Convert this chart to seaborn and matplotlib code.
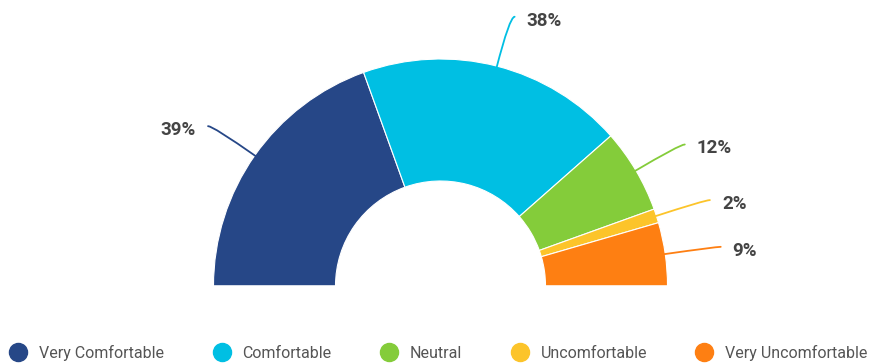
import numpy as np
import matplotlib.pyplot as plt
import seaborn as sns
from matplotlib.lines import Line2D

sns.set_theme(style='white')
plt.rcParams['font.family'] = ['Roboto', 'DejaVu Sans']

# 데이터
categories = ['Very Comfortable', 'Comfortable', 'Neutral', 'Uncomfortable', 'Very Uncomfortable']
shares = [39, 38, 12, 2, 9]
labels = ['39%', '38%', '12%', '2%', '9%']
colors = sns.color_palette(['#264787', '#00bfe3', '#84cc3a', '#fcc42a', '#fe7f12'])

# 반원 도넛: 위쪽 절반만 보이도록 투명한 나머지 조각 추가
fig = plt.figure(figsize=(8.7, 3.64), dpi=100)
ax = fig.add_axes([0, 0, 1, 1])
cx, cy = 440.5, 78
r_out, r_in = 227, 105

ax.pie(shares + [sum(shares)], colors=list(colors) + [(1, 1, 1, 0)],
       startangle=180, counterclock=False, radius=r_out, center=(cx, cy),
       wedgeprops=dict(width=r_out - r_in, linewidth=0.8, edgecolor='white'),
       frame=True)
ax.set_xlim(0, 870)
ax.set_ylim(0, 364)
ax.set_aspect('equal')
ax.axis('off')

# 리더 라인 + 라벨
cum = np.cumsum([0] + shares)
for i, (lab, c) in enumerate(zip(labels, colors)):
    mid = 180 - (cum[i] + shares[i] / 2) * 1.8
    a = np.deg2rad(mid)
    side = 1 if np.cos(a) >= 0 else -1
    p0 = (cx + (r_out - 2) * np.cos(a), cy + (r_out - 2) * np.sin(a))
    p1 = (cx + 278 * np.cos(a) + side * 5, cy + 278 * np.sin(a))
    ax.annotate('', xy=p0, xytext=p1,
                arrowprops=dict(arrowstyle='-', color=c, lw=1.3, shrinkA=0, shrinkB=0,
                                connectionstyle=f'angle3,angleA=0,angleB={mid}'))
    ax.text(p1[0] + side * 12, p1[1] - 4, lab, ha='left' if side > 0 else 'right',
            va='center', fontsize=13.5, fontweight='bold', color='#444444')

handles = [Line2D([], [], marker='o', linestyle='', markersize=13,
                  markerfacecolor=c, markeredgecolor=c) for c in colors]
fig.legend(handles, categories, loc='lower center', ncol=5, frameon=False,
           bbox_to_anchor=(0.5, -0.03), fontsize=11.5, handletextpad=0.3,
           columnspacing=2.6, labelcolor='#555555')

plt.savefig('out.png', dpi=100)
plt.close()
